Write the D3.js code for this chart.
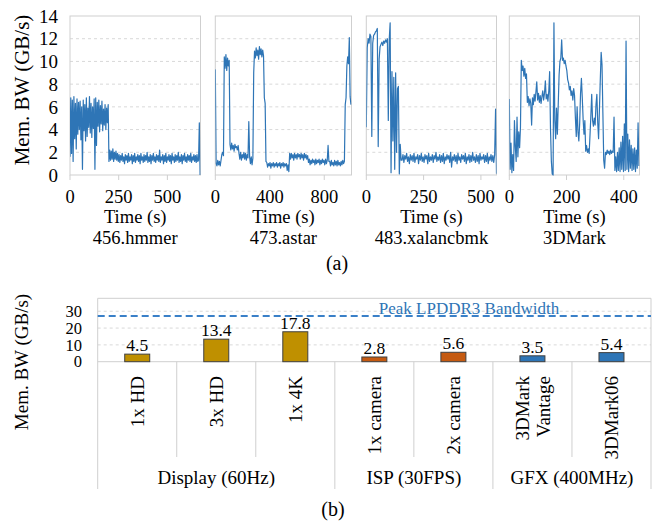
<!DOCTYPE html>
<html><head><meta charset="utf-8">
<script src="https://cdn.jsdelivr.net/npm/d3@7"></script>
<style>
body{margin:0;background:#fff}
svg{display:block}
</style>
</head><body>
<svg id="c" width="654" height="521" font-family="'Liberation Serif', 'DejaVu Serif', serif"></svg>
<script>
// ---------------- DATA ----------------
const panelNames = ["456.hmmer", "473.astar", "483.xalancbmk", "3DMark"];
const panelTicks = [[0, 250, 500], [0, 400, 800], [0, 250, 500], [0, 200, 400]];
const panelDomains = [670, 1000, 568, 455];      // seconds shown on each time axis
const sampleSec = [4, 6, 4, 3];                    // sampling interval of each trace
const bwTicksTop = [0, 2, 4, 6, 8, 10, 12, 14];

const hmmer = [
 1.6,6.8,1.9,6.6,1.2,6.9,3.2,6.3,2.3,6.7,3.6,6.4,4.0,6.5,3.1,6.0,0.5,6.6,3.9,6.2,
 3.0,6.8,3.4,5.9,4.2,6.9,3.7,6.3,3.3,6.0,4.1,6.7,0.5,6.8,2.6,6.4,4.3,6.6,3.8,6.1,
 4.5,6.5,3.9,5.8,4.4,6.2,4.0,5.9,4.6,6.2,
 1.2,2.2,1.3,2.1,1.4,2.3,1.2,2.0,1.4,2.1,1.3,1.9,
 1.2,1.8,1.1,1.7,1.3,1.9,1.2,1.6,1.0,1.8,1.3,1.7,1.1,1.9,1.2,1.6,1.3,1.8,1.0,1.7,
 1.2,1.9,1.1,1.6,1.3,1.8,1.2,1.7,1.0,1.9,1.3,1.6,1.1,1.8,1.2,1.7,1.3,2.0,1.1,1.6,
 1.2,1.8,1.0,1.7,1.3,1.9,1.2,1.6,1.1,1.8,1.3,1.7,1.2,2.2,1.1,1.6,1.3,1.8,1.0,1.7,
 1.2,1.9,1.1,1.6,1.3,1.8,1.2,1.7,1.0,1.9,1.3,1.6,1.1,1.8,1.2,1.7,1.3,2.0,1.1,1.6,
 1.2,1.8,1.0,1.7,1.3,1.9,1.2,1.6,1.1,1.8,1.3,1.7,1.2,1.9,1.1,1.6,1.3,1.8,1.2,1.7,
 1.1,1.8,1.2,
 1.3,4.6,0.0
];
const astar = [
 9.3,1.0,
 0.8,1.3,0.9,1.2,0.8,1.3,
 1.8,2.0,1.7,
 10.4,9.4,10.6,9.2,10.3,9.6,10.1,
 2.7,2.2,2.8,2.3,2.6,2.1,2.7,2.4,2.5,2.2,2.6,
 1.9,1.4,2.0,1.3,1.8,1.5,2.0,1.4,1.9,1.3,1.8,1.5,
 4.7,1.6,
 1.0,1.6,0.9,1.5,
 9.0,
 10.9,10.3,11.2,10.5,11.0,10.2,11.3,10.6,11.1,10.4,11.0,10.5,
 6.8,6.3,1.2,
 1.1,0.7,1.0,0.8,1.1,0.6,1.0,0.8,1.1,0.7,1.0,0.8,1.1,0.7,1.0,0.8,1.1,0.6,1.0,0.8,1.1,0.7,1.0,0.8,1.0,
 0.4,0.9,0.3,
 1.9,
 1.4,1.9,1.5,1.8,1.3,1.9,1.5,1.8,1.4,1.9,1.6,1.8,1.4,1.9,1.5,1.8,1.3,1.9,1.5,1.8,1.4,1.7,
 1.1,1.4,0.9,1.3,1.0,1.4,1.1,1.3,0.9,1.4,1.0,1.3,1.1,1.4,0.9,1.3,1.0,1.4,1.1,1.3,0.9,1.4,1.0,1.3,
 2.6,1.2,
 1.2,0.8,1.3,0.9,1.1,0.8,1.3,0.9,1.2,0.8,1.3,0.9,1.1,0.8,1.2,0.9,1.3,1.0,
 1.2,6.2,6.8,9.6,10.4,9.8,12.1,6.9,6.2
];
const xalancbmk = [
 4.2,11.2,12.0,11.6,12.4,12.2,3.4,11.6,12.3,12.4,12.6,12.7,12.9,2.5,
 10.2,11.3,11.5,11.7,11.4,11.8,11.6,11.9,11.7,12.0,4.8,11.9,13.4,
 0.2,9.1,3.0,8.6,0.5,9.0,2.0,7.6,7.8,0.1,2.7,1.3,
 1.3,1.8,1.1,1.7,1.4,1.9,1.2,1.6,1.0,1.8,1.3,1.7,1.2,1.9,1.1,1.6,1.4,1.8,1.0,1.7,
 1.3,1.9,1.2,1.6,1.1,1.8,1.4,1.7,1.0,1.9,1.2,1.6,1.3,1.8,1.1,1.7,1.4,2.0,1.2,1.6,
 1.3,1.8,1.1,1.7,1.2,1.9,1.0,1.6,1.3,1.8,1.4,1.7,1.1,2.0,0.7,1.6,1.3,1.8,1.2,1.7,
 1.0,1.9,1.3,1.6,1.1,1.8,1.4,1.7,1.2,1.9,1.0,1.6,1.3,1.8,1.1,1.7,1.2,2.0,1.3,1.6,
 1.1,1.8,1.2,1.7,1.0,1.9,1.3,1.6,1.4,1.8,1.1,1.7,1.2,1.9,1.0,1.6,1.3,1.8,1.2,1.7,
 1.1,1.8,
 5.8,0.1
];
const mark3d = [
 6.7,0.5,2.8,0.2,1.8,0.4,4.8,2.5,1.2,5.1,1.6,3.8,2.4,4.2,
 10.1,9.2,9.6,8.7,9.4,8.5,8.9,
 6.4,6.9,6.1,6.7,6.3,4.4,6.8,6.2,7.1,6.5,7.3,8.2,6.6,7.2,6.4,7.0,6.3,6.9,7.4,6.6,7.2,8.3,6.7,7.1,6.5,7.4,9.1,
 4.0,1.2,0.1,0.0,13.4,4.8,3.2,5.9,3.6,6.2,
 8.8,10.0,10.3,11.9,10.1,10.3,9.8,10.1,9.6,9.2,
 8.4,8.1,7.5,7.8,7.0,7.4,6.6,7.6,7.0,
 5.0,3.4,6.0,3.8,3.0,4.6,7.2,8.5,6.8,4.9,3.6,4.8,2.1,
 2.6,2.0,2.3,1.9,3.5,5.2,7.1,4.8,4.3,5.0,4.4,6.2,7.1,4.6,3.2,5.8,8.4,10.8,9.7,5.5,
 1.3,0.6,2.0,
 1.8,2.2,1.9,2.1,1.8,2.2,1.9,2.1,2.0,
 5.1,0.4,
 1.6,0.3,2.0,0.4,2.4,0.3,2.9,0.5,3.4,0.3,4.5,0.4,11.8,0.5,3.6,0.3,3.1,0.6,2.6,0.4,
 2.3,0.5,2.4,0.3,2.2,0.6,4.6,0.8
];
const traces = [hmmer, astar, xalancbmk, mark3d];

const categories = ["1x HD", "3x HD", "1x 4K", "1x camera", "2x camera", "3DMark Vantage", "3DMark06"];
const categoryLines = [["1x HD"], ["3x HD"], ["1x 4K"], ["1x camera"], ["2x camera"], ["3DMark", "Vantage"], ["3DMark06"]];
const categoryGroup = ["Display (60Hz)", "Display (60Hz)", "Display (60Hz)", "ISP (30FPS)", "ISP (30FPS)", "GFX (400MHz)", "GFX (400MHz)"];
const groupNames = ["Display (60Hz)", "ISP (30FPS)", "GFX (400MHz)"];
const bandwidth = [4.5, 13.4, 17.8, 2.8, 5.6, 3.5, 5.4];
const bwTicksBottom = [0, 10, 20, 30];
const peakBW = 27.2;
const peakLabel = "Peak LPDDR3 Bandwidth";

// ---------------- DRAW ----------------
(function () {
const FONT = "'Liberation Serif', 'DejaVu Serif', serif";
const svg = d3.select("#c");
const blue = "#2E75B6";
const gridC = "#d9d9d9";
const borderC = "#cfcfcf";
const groupColor = d3.scaleOrdinal().domain(groupNames).range(["#BF9000", "#C55A11", "#2E75B6"]);
const T = (sel) => sel.append("text").attr("font-family", FONT).attr("fill", "#000");

// ---- (a) top panels ----
const topY = d3.scaleLinear().domain([0, 14]).range([175, 16]);
const panelX = [[70, 200.5], [215.3, 351.5], [366.3, 496.5], [509.3, 639.5]];

panelNames.forEach((name, p) => {
  const x = d3.scaleLinear().domain([0, panelDomains[p]]).range(panelX[p]);
  const g = svg.append("g");
  const [x0, x1] = panelX[p];
  bwTicksTop.filter(v => v > 0 && v < 14).forEach(v => {
    g.append("line").attr("x1", x0).attr("x2", x1).attr("y1", topY(v)).attr("y2", topY(v))
      .attr("stroke", gridC).attr("stroke-dasharray", "3,3").attr("stroke-width", 1);
  });
  g.append("rect").attr("x", x0).attr("y", topY(14)).attr("width", x1 - x0).attr("height", topY(0) - topY(14))
    .attr("fill", "none").attr("stroke", borderC).attr("stroke-width", 1);
  panelTicks[p].forEach(t => {
    g.append("line").attr("x1", x(t)).attr("x2", x(t)).attr("y1", topY(0)).attr("y2", topY(0) + 5)
      .attr("stroke", borderC);
    T(g).attr("x", x(t)).attr("y", 203).attr("text-anchor", "middle")
      .attr("font-size", 18.5).text(t);
  });
  const clipId = "clip" + p;
  svg.append("clipPath").attr("id", clipId).append("rect")
    .attr("x", x0).attr("y", topY(14)).attr("width", x1 - x0).attr("height", topY(0) - topY(14) + 1);
  const line = d3.line().x((d, i) => x(i * sampleSec[p])).y(d => topY(d));
  g.append("path").datum(traces[p]).attr("d", line).attr("fill", "none")
    .attr("stroke", blue).attr("stroke-width", 1.2).attr("stroke-linejoin", "round")
    .attr("clip-path", "url(#" + clipId + ")");
  const cx = (x0 + x1) / 2;
  T(g).attr("x", cx).attr("y", 223).attr("text-anchor", "middle").attr("font-size", 18.5).text("Time (s)");
  T(g).attr("x", cx).attr("y", 244).attr("text-anchor", "middle").attr("font-size", 18.5).text(name);
  if (p === 0) {
    bwTicksTop.forEach(v => {
      T(g).attr("x", 58).attr("y", topY(v)).attr("dy", "0.35em").attr("text-anchor", "end")
        .attr("font-size", 19).text(v);
    });
  }
});
T(svg).attr("transform", "translate(29,90) rotate(-90)").attr("text-anchor", "middle")
  .attr("font-size", 21).text("Mem. BW (GB/s)");
T(svg).attr("x", 337).attr("y", 270).attr("text-anchor", "middle").attr("font-size", 20).text("(a)");

// ---- (b) bar chart ----
const bx = d3.scaleBand().domain(categories).range([97.7, 651]).paddingInner(0).paddingOuter(0);
const by = d3.scaleLinear().domain([0, 37.7]).range([361.7, 298.3]);
const bg = svg.append("g");
const pLeft = 97.7, pRight = 651, pTop = by(37.7), pBase = by(0), bottomAll = 489, bottomCat = 457;

bwTicksBottom.filter(v => v > 0).forEach(v => {
  bg.append("line").attr("x1", pLeft).attr("x2", pRight).attr("y1", by(v)).attr("y2", by(v))
    .attr("stroke", gridC).attr("stroke-dasharray", "3,3");
});
bg.append("line").attr("x1", pLeft).attr("x2", pRight).attr("y1", pTop).attr("y2", pTop).attr("stroke", borderC);
bg.append("line").attr("x1", pLeft).attr("x2", pRight).attr("y1", pBase).attr("y2", pBase).attr("stroke", borderC);
bg.append("line").attr("x1", pLeft).attr("x2", pLeft).attr("y1", pTop).attr("y2", bottomAll).attr("stroke", borderC);
bg.append("line").attr("x1", pRight).attr("x2", pRight).attr("y1", pTop).attr("y2", bottomAll).attr("stroke", borderC);
categories.forEach((c, i) => {
  if (i === 0) return;
  const xs = bx(c);
  const sameGroup = categoryGroup[i] === categoryGroup[i - 1];
  bg.append("line").attr("x1", xs).attr("x2", xs).attr("y1", pBase).attr("y2", sameGroup ? bottomCat : bottomAll)
    .attr("stroke", borderC);
});
bwTicksBottom.forEach(v => {
  T(bg).attr("x", 82).attr("y", by(v)).attr("dy", "0.35em").attr("text-anchor", "end")
    .attr("font-size", 16.5).text(v);
});
bg.append("line").attr("x1", pLeft).attr("x2", pRight).attr("y1", by(peakBW)).attr("y2", by(peakBW))
  .attr("stroke", "#3a80c8").attr("stroke-width", 2).attr("stroke-dasharray", "7,4");
T(bg).attr("x", 469).attr("y", by(peakBW) - 2).attr("text-anchor", "middle")
  .attr("font-size", 17).attr("fill", "#2E75B6").text(peakLabel);
const barW = 25;
categories.forEach((c, i) => {
  const cx = bx(c) + bx.bandwidth() / 2;
  bg.append("rect").attr("x", cx - barW / 2).attr("y", by(bandwidth[i])).attr("width", barW)
    .attr("height", by(0) - by(bandwidth[i])).attr("fill", groupColor(categoryGroup[i]))
    .attr("stroke", "#404040").attr("stroke-width", 1);
  T(bg).attr("x", cx).attr("y", by(bandwidth[i]) - 3).attr("text-anchor", "middle")
    .attr("font-size", 17.5).text(bandwidth[i]);
  const lines = categoryLines[i];
  lines.forEach((ln, k) => {
    const off = (k - (lines.length - 1) / 2) * 21;
    T(bg).attr("transform", `translate(${cx + off},376) rotate(-90)`)
      .attr("text-anchor", "end").attr("dy", "0.35em").attr("font-size", 19).text(ln);
  });
});
groupNames.forEach(gname => {
  const idx = categories.filter((c, i) => categoryGroup[i] === gname);
  const gx0 = bx(idx[0]), gx1 = bx(idx[idx.length - 1]) + bx.bandwidth();
  T(bg).attr("x", (gx0 + gx1) / 2).attr("y", 484).attr("text-anchor", "middle")
    .attr("font-size", 19).text(gname);
});
T(svg).attr("transform", "translate(28,362) rotate(-90)").attr("text-anchor", "middle")
  .attr("font-size", 19).text("Mem. BW (GB/s)");
T(svg).attr("x", 333).attr("y", 516).attr("text-anchor", "middle").attr("font-size", 20).text("(b)");
})();
</script>
</body></html>
